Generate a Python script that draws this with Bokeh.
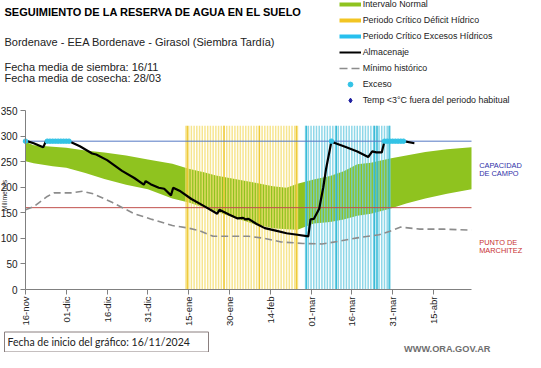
import math
from bokeh.plotting import figure
from bokeh.models import Range1d, FixedTicker, Label, Legend, LegendItem
from bokeh.embed import file_html
from bokeh.resources import INLINE

# ---------------- data (day 0 = 16/11/2024) ----------------
tick_days = [0, 15, 30, 45, 60, 75, 90, 105, 120, 135, 150]
tick_labels = ["16-nov", "01-dic", "16-dic", "31-dic", "15-ene", "30-ene",
               "14-feb", "01-mar", "16-mar", "31-mar", "15-abr"]
y_ticks = [0, 50, 100, 150, 200, 250, 300, 350]

band_days = [0, 3, 10, 15, 22, 29, 37, 45, 54, 60, 66, 70, 77, 84, 91, 96,
             100, 106, 112, 117, 122, 127, 134, 140, 147, 155, 164]
band_top = [289, 282, 279, 277, 272, 268, 262, 254, 246, 236, 229, 223, 216,
            209, 202, 199, 207, 215, 222, 231, 245, 248, 256, 262, 269, 274, 278]
band_bottom = [251, 247, 241, 238, 228, 216, 205, 196, 178, 170, 160, 153, 140,
               128, 120, 118, 117, 129, 132, 137, 144, 148, 158, 168, 178, 187, 196]

alm_days = [0, 3, 6.5, 7.5, 16, 20, 24.5, 26, 30, 35.5, 40, 43.5, 44.2, 46, 49,
            51, 53.5, 54.3, 57, 61, 66, 70.5, 71.3, 75, 78, 80, 81, 82, 85, 88,
            92, 96, 100, 104, 104.8, 106, 108, 109.5, 110.5, 112.5, 113.5, 118,
            122, 126, 127.5, 129, 131, 132, 139, 143]
alm_vals = [291, 286, 278, 290, 290, 280, 266, 264, 253, 232, 218, 205, 212, 206,
            199, 197, 184, 199, 192, 177, 162, 148, 156, 146, 139, 140, 137, 138,
            128, 120, 115, 110, 107, 104, 137, 138, 158, 200, 235, 290, 287, 278,
            270, 259, 270, 268, 268, 290, 290, 286]

min_days = [0, 3, 5, 8, 10.5, 17, 21, 25, 32, 40, 46, 54, 60, 64, 69, 82, 88,
            94, 102, 109, 115, 122, 130, 134, 138, 145, 154, 164]
min_vals = [156, 162, 170, 182, 189, 189, 192, 187, 170, 148, 138, 125, 120, 115,
            104, 104, 100, 93, 90, 89, 94, 101, 107, 114, 122, 118, 118, 116]

exceso_days = [0, 8, 9, 10, 11, 12, 13, 14, 15, 16, 112.5, 132, 133, 134, 135,
               136, 137, 138, 139]
exceso_vals = [290] * len(exceso_days)

deficit_start, deficit_end = 59, 100
excess_start, excess_end = 103, 134
deficit_dark = [59.5, 73, 86, 99.6]
excess_dark = [103.3, 114.3, 128.3, 129.3, 133.7]
period_top = 320

capacidad_campo = 290
punto_marchitez = 160
x_last = 164
y_max = 350

# ---------------- figure geometry ----------------
W, H = 525, 352
FL, FR, FT, FB = 25, 471, 110, 289   # plot-area pixel box inside the canvas
px_day = (FR - FL) / x_last
px_mm = (FB - FT) / y_max
x0 = -FL / px_day
x1 = x_last + (W - FR) / px_day
y0 = -(H - FB) / px_mm
y1 = y_max + FT / px_mm

p = figure(width=W, height=H, output_backend="svg", toolbar_location=None,
           x_range=Range1d(x0, x1), y_range=Range1d(y0, y1), min_border=0)
p.outline_line_color = None
p.xgrid.visible = False
p.ygrid.visible = False
p.background_fill_color = "white"
p.border_fill_color = "white"

axis_col = "#808080"
for ax in (p.xaxis[0], p.yaxis[0]):
    ax.fixed_location = 0
    ax.axis_line_color = axis_col
    ax.major_tick_line_color = axis_col
    ax.minor_tick_line_color = None
    ax.major_tick_in = 0
    ax.major_tick_out = 5
    ax.major_label_text_font = "Liberation Sans"
    ax.major_label_text_color = "#1a1a1a"

p.yaxis.bounds = (0, y_max)
p.yaxis.ticker = FixedTicker(ticks=y_ticks)
p.yaxis.major_label_text_font_size = "10px"
p.yaxis.major_label_standoff = 3

p.xaxis.bounds = (0, x_last)
p.xaxis.ticker = FixedTicker(ticks=tick_days)
p.xaxis.major_label_overrides = {d: l for d, l in zip(tick_days, tick_labels)}
p.xaxis.major_label_orientation = math.pi / 2
p.xaxis.major_label_text_font_size = "9.5px"
p.xaxis.major_label_standoff = 2

# band
p.varea(x=band_days, y1=band_bottom, y2=band_top, fill_color="#8fc31f")

# critical period stripes
def_days = [d for d in range(deficit_start, deficit_end + 1)]
exc_days = [d for d in range(excess_start, excess_end + 1)]
p.vbar(x=def_days, top=period_top, bottom=0, width=0.55,
       fill_color="#f4de74", line_color=None, fill_alpha=0.8)
p.vbar(x=deficit_dark, top=period_top, bottom=0, width=0.5,
       fill_color="#eec730", line_color=None, fill_alpha=0.95)
p.vbar(x=exc_days, top=period_top, bottom=0, width=0.55,
       fill_color="#72cde2", line_color=None, fill_alpha=0.8)
p.vbar(x=excess_dark, top=period_top, bottom=0, width=0.5,
       fill_color="#30b8d6", line_color=None, fill_alpha=0.95)

# reference lines
p.line(x=[0, x_last], y=[capacidad_campo] * 2, line_color="#5579c4", line_width=1)
p.line(x=[0, x_last], y=[punto_marchitez] * 2, line_color="#c0504d", line_width=1)

# minimo historico
p.line(x=min_days, y=min_vals, line_color="#8c8c8c", line_width=1.6,
       line_dash="7 4")
# almacenaje
p.line(x=alm_days, y=alm_vals, line_color="black", line_width=2.2)
# exceso dots
p.scatter(x=exceso_days, y=exceso_vals, size=4.5, marker="circle",
          fill_color="#33c3e6", line_color="#33c3e6")

# legend: sample renderers placed outside the visible ranges
off_x = [x0 - 20, x0 - 10]
off_y = [y0 - 50, y0 - 50]
r_int = p.line(x=off_x, y=off_y, line_color="#8fc31f", line_width=4)
r_def = p.line(x=off_x, y=off_y, line_color="#f2c523", line_width=4)
r_exc = p.line(x=off_x, y=off_y, line_color="#27c0ee", line_width=4)
r_alm = p.line(x=off_x, y=off_y, line_color="black", line_width=2)
r_min = p.line(x=off_x, y=off_y, line_color="#8c8c8c", line_width=1.6,
               line_dash="8 4")
r_exd = p.scatter(x=off_x[:1], y=off_y[:1], size=3.5, marker="circle",
                  fill_color="#33c3e6", line_color="#33c3e6")
r_tmp = p.scatter(x=off_x[:1], y=off_y[:1], size=6, marker="diamond",
                  fill_color="#1f1fa0", line_color="#1f1fa0")
items = [
    LegendItem(label="Intervalo Normal", renderers=[r_int]),
    LegendItem(label="Periodo Crítico Déficit Hídrico", renderers=[r_def]),
    LegendItem(label="Periodo Crítico Excesos Hídricos", renderers=[r_exc]),
    LegendItem(label="Almacenaje", renderers=[r_alm]),
    LegendItem(label="Mínimo histórico", renderers=[r_min]),
    LegendItem(label="Exceso", renderers=[r_exd]),
    LegendItem(label="Temp <3°C fuera del periodo habitual", renderers=[r_tmp]),
]
row_h, row_gap = 12, 4
leg_h = 7 * row_h + 6 * row_gap
leg_top = 3.5 - row_h / 2
leg = Legend(items=items, location=(338.7, H - leg_top - leg_h),
             orientation="vertical", padding=0, margin=0, spacing=row_gap,
             glyph_width=22, glyph_height=row_h, label_height=row_h,
             label_standoff=2, label_text_font="Liberation Sans",
             label_text_font_size="8.9px", label_text_color="#222222",
             label_text_baseline="middle",
             background_fill_alpha=0, border_line_color=None)
p.add_layout(leg, "center")


# ---------------- texts (canvas pixel positions, y from top) ----------------
def add_text(txt, fx, fy, size, color="black", style="normal", font="Liberation Sans",
             align="left", baseline="alphabetic", angle=0, **kw):
    p.add_layout(Label(x=fx, y=H - fy, x_units="screen", y_units="screen",
                       text=txt, text_font=font, text_font_size=size,
                       text_color=color, text_font_style=style, text_align=align,
                       text_baseline=baseline, angle=angle, **kw))


add_text("SEGUIMIENTO DE LA RESERVA DE AGUA  EN EL SUELO", 4, 11.3, "11px",
         style="bold")
add_text("Bordenave - EEA Bordenave - Girasol (Siembra Tardía)", 4, 41, "11px",
         color="#222222")
add_text("Fecha media de siembra: 16/11", 4, 66.5, "11px", color="#222222")
add_text("Fecha media de cosecha: 28/03", 4, 77.5, "11px", color="#222222")
add_text("Milímetros", 3.5, 195, "6.8px", color="#333333",
         align="center", baseline="middle", angle=math.pi / 2)
add_text("CAPACIDAD", 478.7, 165.3, "7.4px", color="#3030a8")
add_text("DE  CAMPO", 478.7, 172.9, "7.4px", color="#3030a8")
add_text("PUNTO  DE", 478.7, 241.5, "7.4px", color="#c83232")
add_text("MARCHITEZ", 478.7, 249.8, "7.4px", color="#c83232")
add_text("Fecha de inicio del gráfico:  16/11/2024", 4, 341.5, "10.5px",
         font="Lato", color="#222222", baseline="middle",
         border_line_color="#8a7f7f", border_line_width=1,
         background_fill_color="white",
         padding=dict(left=3, right=16, top=4, bottom=4))
add_text("WWW.ORA.GOV.AR", 490, 348, "9.2px", color="#6e6e6e", style="bold",
         align="right")

open("out.html", "w").write(file_html(p, INLINE))
